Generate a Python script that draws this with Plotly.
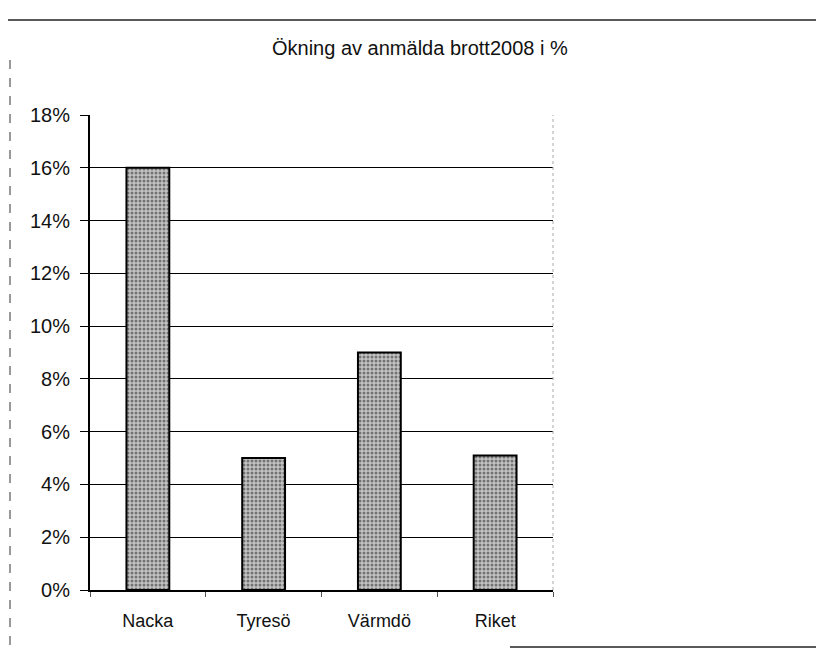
import plotly.graph_objects as go

categories = ["Nacka", "Tyresö", "Värmdö", "Riket"]
values = [0.16, 0.05, 0.09, 0.051]
tick_vals = [0, 0.02, 0.04, 0.06, 0.08, 0.10, 0.12, 0.14, 0.16, 0.18]
title_text = "Ökning av anmälda brott2008 i %"

OFF = 8  # page body margin
W, H = 824 - OFF, 651 - OFF
L, R, T, B = 90 - OFF, 553 - OFF, 115 - OFF, 590 - OFF

def px(x):
    return (x - OFF - L) / (R - L)

def py(y):
    return (B - (y - OFF)) / (B - T)

fig = go.Figure()
fig.add_trace(go.Bar(
    x=categories, y=values,
    marker=dict(
        color="#c0c0c0",
        line=dict(color="black", width=2),
        pattern=dict(shape=".", size=4, solidity=0.45, fgcolor="#222", bgcolor="#c4c4c4"),
    ),
    width=0.37,
))

fig.update_layout(
    width=W, height=H,
    margin=dict(l=L, r=W - R, t=T, b=H - B),
    paper_bgcolor="white", plot_bgcolor="white",
    font=dict(family="Liberation Sans, Arial", color="black"),
    showlegend=False,
    bargap=0.63,
    annotations=[dict(
        text=title_text, xref="paper", yref="paper",
        x=px(420), y=py(48), xanchor="center", yanchor="middle",
        showarrow=False, font=dict(size=20, color="#111"),
    )],
    shapes=[
        dict(type="line", xref="paper", yref="paper", x0=px(0), x1=px(824), y0=py(20), y1=py(20),
             line=dict(color="#222", width=1.5)),
        dict(type="line", xref="paper", yref="paper", x0=px(10), x1=px(10), y0=py(60), y1=py(651),
             line=dict(color="#333", width=1, dash="dash")),
        dict(type="line", xref="paper", yref="paper", x0=px(510), x1=px(824), y0=py(647), y1=py(647),
             line=dict(color="#222", width=1.5)),
        dict(type="line", xref="paper", yref="paper", x0=1, x1=1, y0=0, y1=1,
             line=dict(color="#aaa", width=1, dash="dot")),
    ],
)

fig.update_yaxes(
    range=[0, 0.18], tickvals=tick_vals, tickformat=".0%",
    showgrid=True, gridcolor="black", gridwidth=1,
    showline=True, linecolor="black", linewidth=2,
    ticks="outside", ticklen=8, tickcolor="black",
    tickfont=dict(size=20, color="#111"), zeroline=False,
    ticklabelstandoff=6,
)
fig.update_xaxes(
    showline=True, linecolor="black", linewidth=1.5,
    ticks="outside", tickson="boundaries", ticklen=5, tickcolor="#555",
    tickfont=dict(size=18, color="#111"),
    ticklabelstandoff=14,
)

fig.write_html("out.html")
